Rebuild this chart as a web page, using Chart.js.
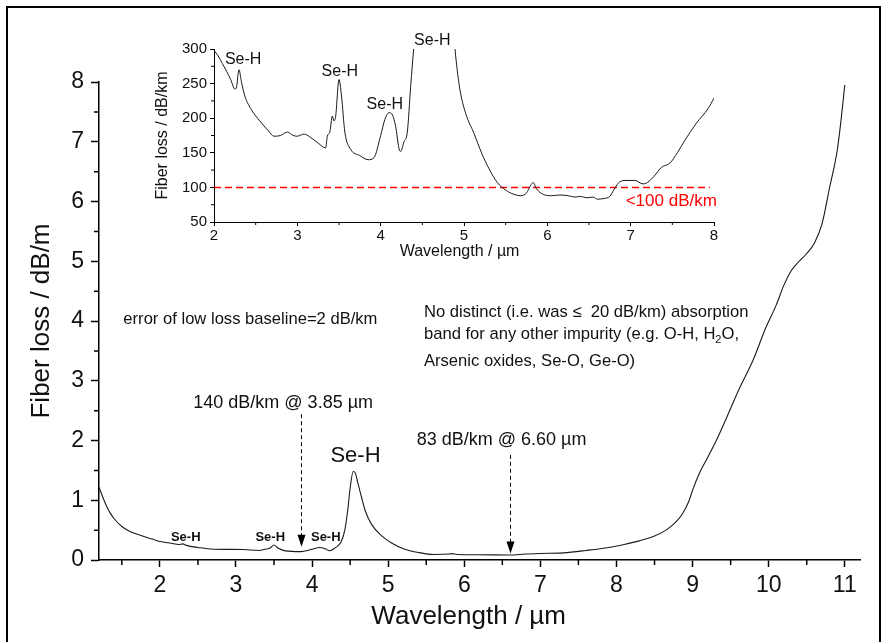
<!DOCTYPE html>
<html>
<head>
<meta charset="utf-8">
<script src="https://cdn.jsdelivr.net/npm/chart.js@4"></script>
<style>
  body { margin: 0; background: #fff; }
  #wrap { position: relative; width: 881px; height: 642px; overflow: hidden; }
  #frame { position: absolute; left: 6px; top: 6px; width: 871px; height: 640px; border: 2px solid #000; }
  #main { position: absolute; left: 0; top: 0; }
  #inset { position: absolute; left: 140px; top: 20px; }
</style>
</head>
<body>
<div id="wrap">
  <div id="frame"></div>
  <canvas id="main" width="881" height="642"></canvas>
  <canvas id="inset" width="600" height="250"></canvas>
</div>
<script>
// full spectrum, loss in dB/m
var mainWl = [1.2, 1.25, 1.3, 1.35, 1.4, 1.5, 1.6, 1.75, 1.9, 2.0, 2.15, 2.25, 2.3, 2.35, 2.5, 2.7, 2.9, 3.1, 3.3,
  3.38, 3.45, 3.5, 3.55, 3.65, 3.85, 4.0, 4.1, 4.17, 4.23, 4.3, 4.38, 4.43, 4.47, 4.5, 4.54, 4.57, 4.6, 4.65,
  4.7, 4.78, 4.9, 5.05, 5.2, 5.4, 5.6, 5.8, 5.84, 5.9, 6.2, 6.6, 6.8, 7.0, 7.3, 7.6, 7.9, 8.1, 8.3, 8.5, 8.65,
  8.75, 8.85, 8.95, 9.0, 9.1, 9.2, 9.3, 9.45, 9.6, 9.8, 9.95, 10.1, 10.2, 10.3, 10.4, 10.5, 10.6, 10.7, 10.8,
  10.9, 10.95, 11.0]
var mainLoss = [1.22, 1.05, 0.9, 0.78, 0.69, 0.56, 0.48, 0.41, 0.35, 0.31, 0.28, 0.26, 0.27, 0.245, 0.21, 0.18,
  0.178, 0.175, 0.16, 0.18, 0.2, 0.25, 0.2, 0.152, 0.14, 0.18, 0.21, 0.19, 0.155, 0.2, 0.3, 0.5, 0.85, 1.2,
  1.48, 1.45, 1.3, 1.05, 0.82, 0.6, 0.42, 0.28, 0.19, 0.125, 0.092, 0.1, 0.106, 0.092, 0.088, 0.083, 0.1,
  0.11, 0.12, 0.16, 0.21, 0.26, 0.32, 0.4, 0.5, 0.6, 0.74, 0.98, 1.17, 1.48, 1.72, 1.97, 2.39, 2.83, 3.36,
  3.85, 4.27, 4.6, 4.85, 5.0, 5.13, 5.3, 5.62, 6.23, 6.85, 7.35, 7.95]

// inset, loss in dB/km
var insetWl = [2.0, 2.05, 2.1, 2.15, 2.2, 2.25, 2.27, 2.3, 2.33, 2.37, 2.45, 2.55, 2.65, 2.72, 2.8, 2.88, 2.95,
  3.0, 3.08, 3.15, 3.25, 3.34, 3.36, 3.39, 3.42, 3.44, 3.46, 3.5, 3.53, 3.57, 3.64, 3.75, 3.85, 3.92, 4.0,
  4.05, 4.1, 4.14, 4.18, 4.22, 4.24, 4.28, 4.32, 4.36, 4.4, 4.45, 4.85, 4.9, 4.95, 5.02, 5.12, 5.21, 5.3,
  5.4, 5.5, 5.6, 5.68, 5.75, 5.8, 5.83, 5.87, 5.95, 6.05, 6.15, 6.25, 6.33, 6.4, 6.47, 6.55, 6.6, 6.68, 6.75,
  6.8, 6.85, 6.92, 7.05, 7.15, 7.2, 7.28, 7.37, 7.47, 7.56, 7.65, 7.79, 7.93, 8.0]
var insetLoss = [298, 290, 279, 268, 256, 242, 245, 270, 252, 232, 212, 196, 182, 174, 175, 180, 175, 174, 177,
  173, 164, 157, 174, 180, 203, 196, 203, 256, 232, 180, 155, 146, 140, 143, 175, 198, 208, 205, 188, 156,
  152, 166, 180, 246, 305, 360, 360, 290, 242, 207, 178, 150, 127, 107, 96, 90, 88, 92, 103, 107, 98, 90,
  88, 89, 88, 86, 87, 85, 86, 83, 84, 87, 97, 106, 110, 110, 105, 107, 116, 129, 135, 150, 168, 193, 214, 229]

var mainXTicks = [2, 3, 4, 5, 6, 7, 8, 9, 10, 11]
var mainYTicks = [0, 1, 2, 3, 4, 5, 6, 7, 8]
var insetXTicks = [2, 3, 4, 5, 6, 7, 8]
var insetYTicks = [50, 100, 150, 200, 250, 300]
var limitLine = 100   // dB/km

var FONT = 'Arial, "Liberation Sans", sans-serif'
Chart.defaults.font.family = FONT

// text notes, placed in data coordinates
var mainNotes = [
  { t: 'Se-H', x: 4.57, y: 1.74, f: '22px' },
  { t: 'Se-H', x: 2.34, y: 0.38, f: 'bold 13px' },
  { t: 'Se-H', x: 3.45, y: 0.38, f: 'bold 13px' },
  { t: 'Se-H', x: 4.18, y: 0.38, f: 'bold 13px' },
  { t: '140 dB/km @ 3.85 \u00b5m', x: 3.62, y: 2.63, f: '18px' },
  { t: '83 dB/km @ 6.60 \u00b5m', x: 6.49, y: 2.0, f: '18px' },
  { t: 'error of low loss baseline=2 dB/km', x: 1.52, y: 4.02, f: '16.6px', a: 'left' },
  { t: 'No distinct (i.e. was \u2264  20 dB/km) absorption', x: 5.47, y: 4.15, f: '16.6px', a: 'left' },
  { t: 'band for any other impurity (e.g. O-H, H\u2082O,', x: 5.47, y: 3.78, f: '16.6px', a: 'left' },
  { t: 'Arsenic oxides, Se-O, Ge-O)', x: 5.47, y: 3.33, f: '16.6px', a: 'left' }
]
var mainArrows = [
  { x: 3.85, from: 2.44, to: 0.22 },
  { x: 6.6, from: 1.76, to: 0.11 }
]
var insetNotes = [
  { t: 'Se-H', x: 2.35, y: 285, f: '16px' },
  { t: 'Se-H', x: 3.51, y: 268, f: '16px' },
  { t: 'Se-H', x: 4.05, y: 219, f: '16px' },
  { t: 'Se-H', x: 4.62, y: 312, f: '16px' },
  { t: '<100 dB/km', x: 6.94, y: 80, f: '17px', a: 'left', c: '#f00' }
]

function pts(xs, ys) {
  return xs.map(function (v, i) { return { x: v, y: ys[i] } })
}

function halfSteps(ticks, lo, hi) {
  var step = ticks[1] - ticks[0], out = []
  for (var v = ticks[0] - step / 2; v <= hi; v += step) if (v >= lo) out.push(v)
  return out
}

var decor = {
  id: 'decor',
  afterDraw: function (chart, args, o) {
    var ctx = chart.ctx, xs = chart.scales.x, ys = chart.scales.y
    ctx.save()
    ctx.strokeStyle = '#000'
    ctx.lineWidth = o.tickW
    ctx.beginPath()
    halfSteps(o.xt, xs.min, xs.max).forEach(function (v) {
      var p = xs.getPixelForValue(v)
      ctx.moveTo(p, ys.bottom); ctx.lineTo(p, ys.bottom + o.minor)
    })
    halfSteps(o.yt, ys.min, ys.max).forEach(function (v) {
      var p = ys.getPixelForValue(v)
      ctx.moveTo(xs.left, p); ctx.lineTo(xs.left - o.minor, p)
    })
    ctx.stroke()

    // dashed arrows
    ;(o.arrows || []).forEach(function (a) {
      var px = Math.round(xs.getPixelForValue(a.x)) + 0.5
      var y0 = ys.getPixelForValue(a.from), y1 = ys.getPixelForValue(a.to)
      ctx.lineWidth = 1
      ctx.setLineDash([4, 3])
      ctx.beginPath(); ctx.moveTo(px, y0); ctx.lineTo(px, y1 - 10); ctx.stroke()
      ctx.setLineDash([])
      ctx.fillStyle = '#000'
      ctx.beginPath(); ctx.moveTo(px - 4, y1 - 12); ctx.lineTo(px + 4, y1 - 12); ctx.lineTo(px, y1); ctx.closePath(); ctx.fill()
    })

    // notes
    ctx.textBaseline = 'middle'
    o.notes.forEach(function (n) {
      ctx.font = n.f + ' ' + FONT
      ctx.fillStyle = n.c || '#111'
      var px = xs.getPixelForValue(n.x), py = ys.getPixelForValue(n.y)
      var parts = n.t.split('\u2082')
      if (parts.length === 1) {
        ctx.textAlign = n.a || 'center'
        ctx.fillText(n.t, px, py)
        return
      }
      ctx.textAlign = 'left'
      ctx.fillText(parts[0], px, py)
      var w = ctx.measureText(parts[0]).width
      var size = parseFloat(n.f)
      ctx.font = Math.round(size * 0.65) + 'px ' + FONT
      ctx.fillText('2', px + w, py + size * 0.35)
      var w2 = ctx.measureText('2').width
      ctx.font = n.f + ' ' + FONT
      ctx.fillText(parts[1], px + w + w2, py)
    })
    ctx.restore()
  }
}

function axis(opts) {
  var ticksArr = opts.ticks
  return {
    type: 'linear',
    min: opts.min,
    max: opts.max,
    afterBuildTicks: function (s) { s.ticks = ticksArr.map(function (v) { return { value: v } }) },
    afterFit: opts.fit,
    border: { color: '#000', width: opts.bw },
    grid: { drawOnChartArea: false, tickLength: opts.tl, tickColor: '#000', tickWidth: opts.bw },
    ticks: { color: '#111', font: { size: opts.fs }, padding: opts.pad, maxRotation: 0, autoSkip: false },
    title: { display: true, text: opts.title, color: '#111', font: { size: opts.ts }, padding: opts.tpad }
  }
}

var mainChart = new Chart(document.getElementById('main'), {
  type: 'line',
  data: {
    datasets: [{
      data: pts(mainWl, mainLoss),
      borderColor: '#1a1a1a',
      borderWidth: 1.1,
      pointRadius: 0,
      cubicInterpolationMode: 'monotone',
      fill: false
    }]
  },
  options: {
    responsive: false,
    animation: false,
    layout: { padding: { left: 0, right: 21, top: 82, bottom: 10 } },
    plugins: {
      legend: { display: false },
      tooltip: { enabled: false },
      decor: { xt: mainXTicks, yt: mainYTicks, minor: 5, tickW: 1.5, notes: mainNotes, arrows: mainArrows }
    },
    scales: {
      x: axis({ min: 1.2, max: 11.2, ticks: mainXTicks, fit: function (s) { s.height = 72 }, bw: 1.5, tl: 7,
        fs: 23, pad: 5, title: 'Wavelength / \u00b5m   ', ts: 26, tpad: { top: 0, bottom: 0 } }),
      y: axis({ min: 0, max: 8, ticks: mainYTicks, fit: function (s) { s.width = 99 }, bw: 1.5, tl: 8,
        fs: 23, pad: 7, title: 'Fiber loss / dB/m', ts: 26, tpad: { top: 26, bottom: 0 } })
    }
  },
  plugins: [decor]
})

var insetChart = new Chart(document.getElementById('inset'), {
  type: 'line',
  data: {
    datasets: [{
      data: pts(insetWl, insetLoss),
      borderColor: '#1a1a1a',
      borderWidth: 1,
      pointRadius: 0,
      cubicInterpolationMode: 'monotone',
      fill: false
    }, {
      data: [{ x: 2, y: limitLine }, { x: 7.95, y: limitLine }],
      borderColor: '#f00',
      borderWidth: 1.5,
      borderDash: [7, 4],
      pointRadius: 0,
      fill: false
    }]
  },
  options: {
    responsive: false,
    animation: false,
    layout: { padding: { left: 0, right: 26, top: 29, bottom: 0 } },
    plugins: {
      legend: { display: false },
      tooltip: { enabled: false },
      decor: { xt: insetXTicks, yt: insetYTicks, minor: 3, tickW: 1, notes: insetNotes }
    },
    scales: {
      x: axis({ min: 2, max: 8, ticks: insetXTicks, fit: function (s) { s.height = 48 }, bw: 1, tl: 4,
        fs: 15, pad: 1, title: 'Wavelength / \u00b5m  ', ts: 16, tpad: { top: 0, bottom: 9 } }),
      y: axis({ min: 50, max: 300, ticks: insetYTicks, fit: function (s) { s.width = 74 }, bw: 1, tl: 4,
        fs: 15, pad: 3, title: 'Fiber loss / dB/km', ts: 16, tpad: { top: 13, bottom: 0 } })
    }
  },
  plugins: [decor]
})
</script>
</body>
</html>
